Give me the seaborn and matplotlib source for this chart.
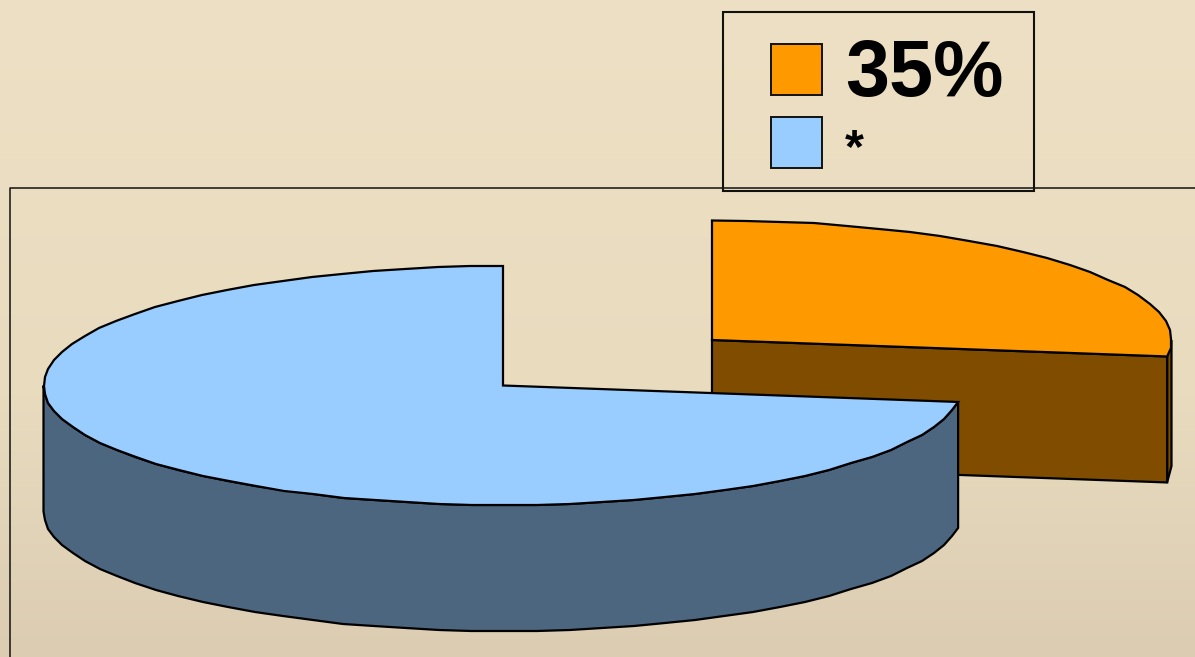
import numpy as np
import matplotlib
matplotlib.use("Agg")
import matplotlib.pyplot as plt
import matplotlib.colors as mcolors
from matplotlib.patches import Rectangle
import seaborn as sns

labels = ["35%", "*"]
shares = [27.2, 72.8]
top_colors = ["#FF9900", "#99CCFF"]
side_colors = ["#804D00", "#4D6680"]
label_sizes = [57, 35]

# pie shape, in pixels of the picture
rx = 459.5
ry = 119.5
depth = 126
centers = [(712, 340), (503, 385.5)]

sns.set_theme(style="white")
plt.rcParams["font.family"] = ["Liberation Sans", "DejaVu Sans"]

fig = plt.figure(figsize=(11.95, 6.57), dpi=100)
ax = fig.add_axes([0, 0, 1, 1])
ax.set_xlim(0, 1195)
ax.set_ylim(657, 0)
ax.axis("off")

# background, light at the top and darker towards the bottom
bg = mcolors.LinearSegmentedColormap.from_list(
    "bg", [(0, "#EEE0C4"), (0.6, "#E8DBBE"), (1, "#DCCDB2")])
ax.imshow(np.linspace(0, 1, 256).reshape(-1, 1), cmap=bg, aspect="auto",
          extent=[0, 1195, 657, 0], zorder=0)

# plot area frame, only top and left are in the picture
ax.plot([1195, 10, 10], [187.5, 187.5, 657], color="#111111", lw=1.1, zorder=1)


def rim(cx, cy, a0, a1):
    # angles clockwise from 12 o'clock, snapped to whole pixels so the edge
    # has the same small steps as the original polygon
    n = max(int(abs(a1 - a0) / 4), 2)
    t = np.radians(np.linspace(a0, a1, n))
    x = cx + rx * np.sin(t)
    y = cy - ry * np.cos(t)
    x[1:-1] = np.round(x[1:-1])
    y[1:-1] = np.round(y[1:-1])
    return x, y


angles = np.cumsum([0] + [s * 3.6 for s in shares])

for i, (lab, share) in enumerate(zip(labels, shares)):
    a0, a1 = angles[i], angles[i + 1]
    cx, cy = centers[i]
    x, y = rim(cx, cy, a0, a1)
    zbase = 2 + i * 3

    if i == 0:
        # sliver of outer wall right of the cut face, then the cut face
        wx, wy = rim(cx, cy, 90, a1)
        ax.fill(np.r_[wx, wx[::-1]], np.r_[wy, wy[::-1] + depth],
                fc=side_colors[i], ec="black", lw=1.6, zorder=zbase)
        fx = [cx, x[-1], x[-1], cx]
        fy = [cy, y[-1], y[-1] + depth, cy + depth]
        ax.fill(fx, fy, fc=side_colors[i], ec="black", lw=1.6, zorder=zbase)
    else:
        # outer wall visible on the front half of the blue slice
        wx, wy = rim(cx, cy, a0, 270)
        ax.fill(np.r_[wx, wx[::-1]], np.r_[wy, wy[::-1] + depth],
                fc=side_colors[i], ec="black", lw=1.6, zorder=zbase)

    ax.fill(np.r_[cx, x], np.r_[cy, y], fc=top_colors[i], ec="black", lw=1.6,
            joinstyle="miter", zorder=zbase + 1)

# legend, no fill so the frame line shows through
ax.add_patch(Rectangle((723, 12), 311.5, 179, fc="none", ec="#111111", lw=1.5, zorder=10))
swatch_y = [43.5, 116.5]
text_y = [96, 162]
for i, lab in enumerate(labels):
    ax.add_patch(Rectangle((771, swatch_y[i]), 51.5, 51.5, fc=top_colors[i], ec="#111111",
                           lw=1.4, zorder=10))
    ax.text(845, text_y[i], lab, fontsize=label_sizes[i], fontweight="bold",
            color="black", va="baseline", ha="left", zorder=10)

fig.savefig("out.png", dpi=100)
